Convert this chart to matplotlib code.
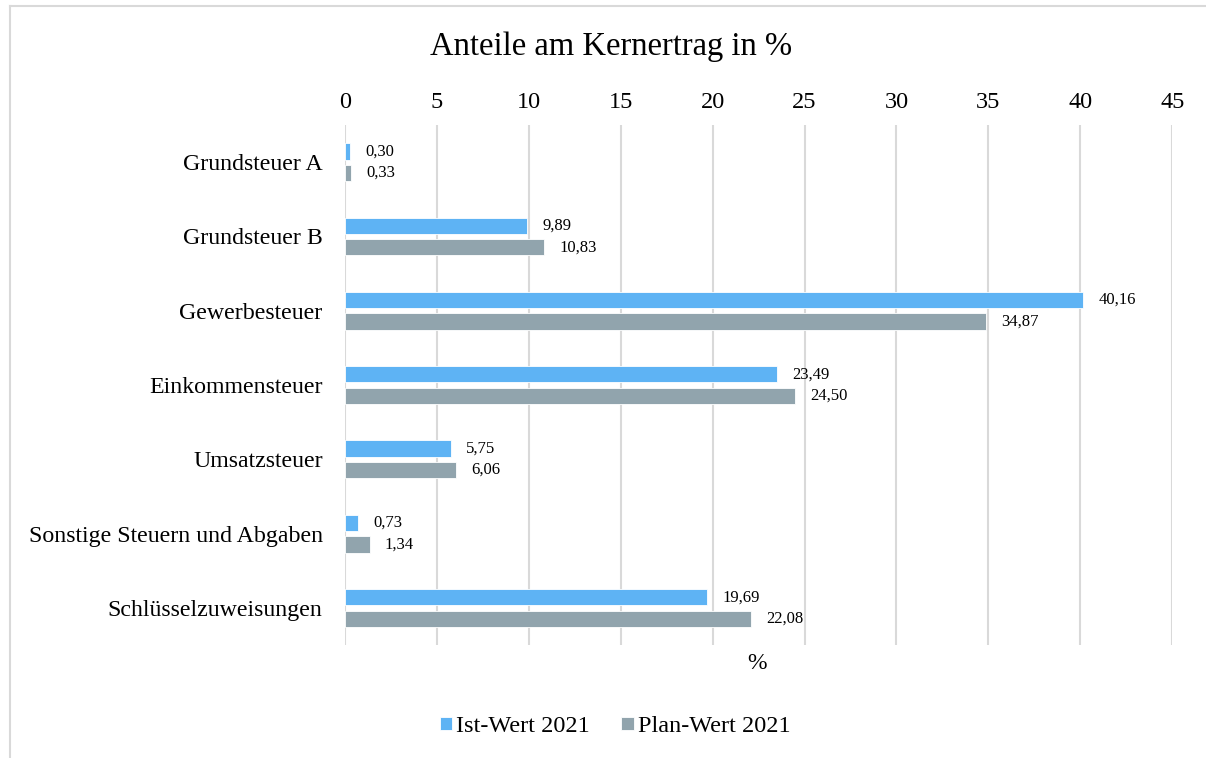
import numpy as np
import matplotlib
matplotlib.use("Agg")
import matplotlib.pyplot as plt
from matplotlib.lines import Line2D

categories = ["Grundsteuer A", "Grundsteuer B", "Gewerbesteuer", "Einkommensteuer",
              "Umsatzsteuer", "Sonstige Steuern und Abgaben", "Schlüsselzuweisungen"]
ist_2021 = [0.30, 9.89, 40.16, 23.49, 5.75, 0.73, 19.69]
plan_2021 = [0.33, 10.83, 34.87, 24.50, 6.06, 1.34, 22.08]
series_names = ["Ist-Wert 2021", "Plan-Wert 2021"]
xticks = [0, 5, 10, 15, 20, 25, 30, 35, 40, 45]

plt.rcParams["font.family"] = ["Liberation Serif", "DejaVu Serif"]

BLUE = "#5EB3F4"
GRAY = "#91A4AD"
GRID = "#D9D9D9"

fig = plt.figure(figsize=(12.06, 7.58), dpi=100)
ax = fig.add_axes([0.286, 0.149, 0.686, 0.686])

y = np.arange(len(categories))
h = 0.22
off = 0.145
b1 = ax.barh(y - off, ist_2021, height=h, color=BLUE, edgecolor="white", linewidth=0.6, label=series_names[0])
b2 = ax.barh(y + off, plan_2021, height=h, color=GRAY, edgecolor="white", linewidth=0.6, label=series_names[1])

for bars, vals in ((b1, ist_2021), (b2, plan_2021)):
    for bar, v in zip(bars, vals):
        ax.annotate(f"{v:.2f}".replace(".", ","),
                    (bar.get_width(), bar.get_y() + bar.get_height() / 2),
                    xytext=(11, 0), textcoords="offset points",
                    ha="left", va="center", fontsize=12)

ax.set_xlim(0, 45)
ax.set_ylim(6.5, -0.5)
ax.set_xticks(xticks)
ax.set_yticks(y)
ax.set_yticklabels(categories, fontsize=17.2)
ax.xaxis.tick_top()
ax.tick_params(axis="x", labelsize=17.5, length=0, pad=9)
ax.tick_params(axis="y", length=0, pad=16)
ax.grid(axis="x", color=GRID, linewidth=1.5)
ax.set_axisbelow(True)
for s in ax.spines.values():
    s.set_visible(False)

fig.text(0.507, 0.938, "Anteile am Kernertrag in %", ha="center", va="center", fontsize=23.5)
fig.text(0.628, 0.125, "%", ha="center", va="center", fontsize=17)

fig.legend(handles=[b1, b2], loc="center", bbox_to_anchor=(0.51, 0.041), ncol=2,
           frameon=False, fontsize=17.5, handlelength=0.5, handleheight=0.45,
           handletextpad=0.17, columnspacing=1.3)

# chart frame
fig.add_artist(Line2D([10 / 1206, 10 / 1206], [0, 1 - 6 / 758], transform=fig.transFigure, color=GRID, lw=1.5))
fig.add_artist(Line2D([10 / 1206, 1], [1 - 6 / 758, 1 - 6 / 758], transform=fig.transFigure, color=GRID, lw=1.5))

fig.savefig("out.png", dpi=100)
